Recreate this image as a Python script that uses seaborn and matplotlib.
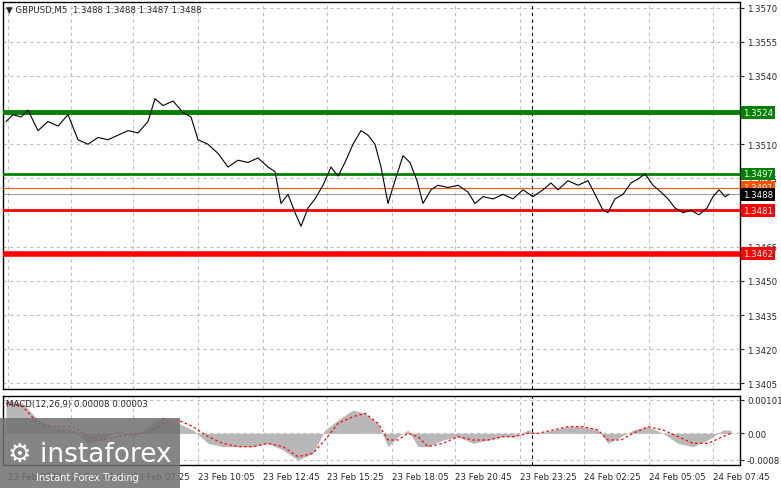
import matplotlib
matplotlib.use("Agg")
import matplotlib.pyplot as plt
import seaborn as sns
import pandas as pd
from matplotlib.patches import Rectangle

sns.set_style("white")
plt.rcParams['font.family'] = ['DejaVu Sans']

price_x = [3,10,18,25,35,45,55,65,75,85,95,105,115,125,135,145,152,160,170,180,188,195,205,215,225,235,245,255,265,272,278,285,292,298,305,312,320,328,335,342,350,358,365,372,378,385,392,400,407,414,420,428,435,445,455,465,472,480,490,500,510,520,530,540,548,555,565,575,585,592,600,605,612,620,628,636,642,650,658,665,672,680,688,696,704,710,716,722,726]
price_y = [1.3520,1.3523,1.3522,1.3525,1.3516,1.3520,1.3518,1.3523,1.3512,1.3510,1.3513,1.3512,1.3514,1.3516,1.3515,1.3520,1.3530,1.3527,1.3529,1.3524,1.3522,1.3512,1.3510,1.3506,1.3500,1.3503,1.3502,1.3504,1.3500,1.3498,1.3484,1.3488,1.3480,1.3474,1.3482,1.3486,1.3492,1.3500,1.3496,1.3502,1.3510,1.3516,1.3514,1.3510,1.3500,1.3484,1.3494,1.3505,1.3502,1.3494,1.3484,1.3490,1.3492,1.3491,1.3492,1.3489,1.3484,1.3487,1.3486,1.3488,1.3486,1.3490,1.3487,1.3490,1.3493,1.3490,1.3494,1.3492,1.3494,1.3488,1.3481,1.3480,1.3486,1.3488,1.3493,1.3495,1.3497,1.3492,1.3489,1.3486,1.3482,1.3480,1.3481,1.3479,1.3482,1.3487,1.3490,1.3487,1.3488]

macd_x = [3,20,35,50,70,85,100,115,130,145,160,175,190,205,220,235,250,265,280,295,310,322,335,350,362,375,385,395,405,415,425,440,455,470,485,500,512,525,535,550,565,580,595,605,618,630,645,660,675,690,705,720,728]
macd_hist = [0.0010,0.0009,0.0004,0.0002,0.0001,-0.0003,-0.0002,0.0001,-0.0001,0.0002,0.0005,0.0003,0.0001,-0.0003,-0.0004,-0.0004,-0.0004,-0.0003,-0.0005,-0.0008,-0.0006,0.0001,0.0004,0.0007,0.0006,0.0003,-0.0004,-0.0001,0.0001,-0.0004,-0.0004,-0.0002,-0.0001,-0.0003,-0.0002,-0.0001,-0.0001,0.0001,0.0000,0.0001,0.0002,0.0002,0.0001,-0.0003,-0.0001,0.0001,0.0002,0.0000,-0.0003,-0.0004,-0.0002,0.0001,0.0001]
macd_signal = [0.0009,0.0008,0.0003,0.0002,0.0002,-0.0001,-0.0002,-0.0001,0.0000,0.0000,0.0003,0.0004,0.0002,-0.0001,-0.0003,-0.0004,-0.0004,-0.0003,-0.0004,-0.0007,-0.0006,-0.0002,0.0003,0.0005,0.0006,0.0003,-0.0002,-0.0002,0.0000,-0.0001,-0.0004,-0.0003,-0.0001,-0.0002,-0.0002,-0.0001,-0.0001,0.0000,0.0000,0.0001,0.0002,0.0002,0.0001,-0.0002,-0.0002,0.0000,0.0002,0.0001,-0.0001,-0.0003,-0.0003,-0.0001,0.0000]

time_pos = [5,68,130,195,260,324,389,452,517,581,646,710]
time_labels = ["23 Feb 2026","23 Feb 04:45","23 Feb 07:25","23 Feb 10:05","23 Feb 12:45","23 Feb 15:25",
               "23 Feb 18:05","23 Feb 20:45","23 Feb 23:25","24 Feb 02:25","24 Feb 05:05","24 Feb 07:45"]
price_ticks = [1.3570,1.3555,1.3540,1.3510,1.3495,1.3465,1.3450,1.3435,1.3420,1.3405]
levels = [1.3524,1.3497,1.3481,1.3462]
level_colors = ["#008000","#008000","#ff0000","#ff0000"]
level_widths = [3.5,2,2,4]

FS = 6.2
W, H = 781, 489
fig = plt.figure(figsize=(W/100, H/100), dpi=100)
fig.patch.set_facecolor("white")
def box(l, t, r, b):
    return [l/W, 1-b/H, (r-l)/W, (b-t)/H]
ax = fig.add_axes(box(3, 3, 740, 390))
ax2 = fig.add_axes(box(3, 397, 740, 466))
XMIN, XMAX = 0, 737

for a in (ax, ax2):
    a.set_xlim(XMIN, XMAX)
    for s in a.spines.values():
        s.set_color("black"); s.set_linewidth(1)
    a.yaxis.tick_right()
    a.tick_params(axis='y', labelsize=FS, length=3, direction='out', pad=2)
    a.set_xticks(time_pos)
    a.grid(True, color="#c0c0c0", linestyle=(0, (3, 3)), linewidth=0.8)
    a.axvline(529, color="black", linestyle=(0, (3, 3)), linewidth=0.8)

ax.set_ylim(1.34025, 1.35725)
ax.set_yticks(price_ticks)
ax.set_yticklabels([f"{v:.4f}" for v in price_ticks])
ax.tick_params(axis='x', labelbottom=False, length=0)

for lv, c, lw in zip(levels, level_colors, level_widths):
    ax.axhline(lv, color=c, linewidth=lw, zorder=3)
ax.axhline(1.3491, color="#ff5000", linewidth=0.8, zorder=3)
ax.axhline(1.3488, color="#a0a0a0", linewidth=0.8, zorder=2)

df = pd.DataFrame({"x": price_x, "y": price_y})
sns.lineplot(data=df, x="x", y="y", ax=ax, color="black", linewidth=0.8, zorder=4)
ax.set_xlabel(""); ax.set_ylabel("")

def tag(a, val, text, fc, tc="white"):
    a.text(1.004, val, text, transform=a.get_yaxis_transform(), fontsize=FS, color=tc,
           va="center", ha="left", bbox=dict(boxstyle="square,pad=0.2", fc=fc, ec="none"), zorder=10, clip_on=False)
tag(ax, 1.3524, "1.3524", "#008000")
tag(ax, 1.3497, "1.3497", "#008000")
tag(ax, 1.3491, "1.3491", "#ff5000")
tag(ax, 1.3488, "1.3488", "black")
tag(ax, 1.3481, "1.3481", "#ff0000")
tag(ax, 1.3462, "1.3462", "#ff0000")
ax.text(0.004, 0.993, "▼ GBPUSD,M5  1.3488 1.3488 1.3487 1.3488", transform=ax.transAxes,
        fontsize=FS, va="top", ha="left")

ax2.set_ylim(-0.00095, 0.00112)
ax2.set_yticks([0.00101, 0.0, -0.0008])
ax2.set_yticklabels(["0.00101", "0.00", "-0.0008"])
ax2.fill_between(macd_x, 0, macd_hist, color="#b8b8b8", linewidth=0, zorder=2)
dm = pd.DataFrame({"x": macd_x, "s": macd_signal})
sns.lineplot(data=dm, x="x", y="s", ax=ax2, color="red", linewidth=0.9, linestyle=(0, (2, 2)), zorder=3)
ax2.set_xlabel(""); ax2.set_ylabel("")
ax2.set_xticklabels(time_labels, fontsize=FS, ha="left")
ax2.tick_params(axis='x', length=3, pad=2)
ax2.text(0.004, 0.95, "MACD(12,26,9) 0.00008 0.00003", transform=ax2.transAxes, fontsize=FS, va="top")

fig.patches.append(Rectangle((0, 0), 180/W, 70/H, transform=fig.transFigure,
                             fc="#707070", alpha=0.85, ec="none", zorder=20))
fig.text(8/W, 1-455/H, "⚙ instaforex", fontsize=19, color="white", zorder=21, va="center")
fig.text(36/W, 1-478/H, "Instant Forex Trading", fontsize=7, color="white", zorder=21, va="center")

fig.savefig("out.png", dpi=100)
